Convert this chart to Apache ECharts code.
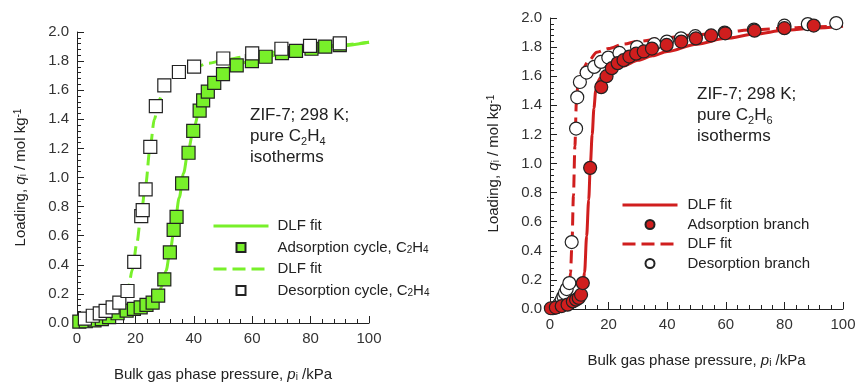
<!DOCTYPE html>
<html>
<head>
<meta charset="utf-8">
<script src="https://cdn.jsdelivr.net/npm/echarts@6/dist/echarts.min.js"></script>
<style>
  html, body { margin: 0; padding: 0; background: #fff; }
  #chart { width: 855px; height: 382px; }
</style>
</head>
<body>
<div id="chart"></div>
<script>
// ZIF-7, 298 K -- C2H4 (left) and C2H6 (right) isotherms
var FONT = '"Liberation Sans", Arial, sans-serif';
var GREEN = '#78f02a';
var RED = '#d01e1e';

// C2H4 adsorption cycle (filled squares)
var c2h4AdsP = [0.8, 3, 6, 8.5, 11, 13.9, 17, 19.5, 21.8, 23.8, 25.9, 27.8, 29.9, 31.8, 33.1, 34.1, 36, 38.2, 39.8, 42, 43.2, 44.8, 47, 50, 54.7, 59.9, 64.6, 70.2, 75, 80.3, 85, 90];
var c2h4AdsQ = [0.01, 0.012, 0.018, 0.026, 0.04, 0.067, 0.085, 0.097, 0.108, 0.124, 0.14, 0.188, 0.30, 0.485, 0.64, 0.73, 0.96, 1.17, 1.32, 1.46, 1.53, 1.59, 1.65, 1.71, 1.77, 1.80, 1.83, 1.855, 1.87, 1.885, 1.90, 1.91];
// C2H4 desorption cycle (open squares)
var c2h4DesP = [2.7, 5.4, 7.8, 9.8, 12.2, 14.5, 17.3, 19.6, 22, 22.5, 23.5, 25.1, 27, 29.9, 34.9, 40.1, 50.1, 60, 70, 79.8, 90];
var c2h4DesQ = [0.03, 0.05, 0.066, 0.083, 0.108, 0.14, 0.22, 0.42, 0.735, 0.776, 0.918, 1.21, 1.49, 1.633, 1.725, 1.762, 1.818, 1.853, 1.885, 1.905, 1.922];
// C2H4 DLF fits
var c2h4FitAP = [0, 5, 10, 15, 20, 24, 26, 27.5, 29, 30.5, 32, 33.5, 35, 36.5, 38, 40, 42, 44, 46, 48, 50, 53, 56, 60, 65, 70, 80, 90, 100];
var c2h4FitAQ = [0, 0.015, 0.035, 0.06, 0.09, 0.12, 0.145, 0.18, 0.25, 0.36, 0.51, 0.68, 0.86, 1.03, 1.18, 1.34, 1.47, 1.57, 1.64, 1.69, 1.73, 1.765, 1.785, 1.805, 1.83, 1.85, 1.88, 1.905, 1.93];
var c2h4FitDP = [0, 5, 10, 14, 16, 17.5, 19, 20.5, 22, 23.5, 25, 26.5, 28, 30, 32, 35, 40, 45, 50, 60, 70, 80, 90, 100];
var c2h4FitDQ = [0, 0.04, 0.08, 0.125, 0.17, 0.24, 0.37, 0.55, 0.76, 0.95, 1.2, 1.40, 1.53, 1.61, 1.665, 1.715, 1.755, 1.785, 1.805, 1.84, 1.865, 1.89, 1.91, 1.93];

// C2H6 adsorption branch (filled circles)
var c2h6AdsP = [0.3, 2, 4, 6, 7.8, 8.9, 9.8, 10.6, 11.2, 13.7, 17.5, 19.3, 21.1, 23.1, 25.1, 27.1, 29.4, 32, 34.8, 39.8, 44.8, 49.8, 55, 59.8, 69.8, 80, 90];
var c2h6AdsQ = [0.005, 0.01, 0.02, 0.03, 0.052, 0.064, 0.076, 0.098, 0.178, 0.97, 1.525, 1.6, 1.655, 1.69, 1.71, 1.735, 1.755, 1.77, 1.79, 1.815, 1.838, 1.86, 1.88, 1.895, 1.913, 1.93, 1.948];
// C2H6 desorption branch (open circles)
var c2h6DesP = [1, 2.3, 3.2, 4.0, 4.6, 5.1, 5.7, 6.6, 7.4, 8.9, 9.3, 10.2, 12.5, 15.1, 17.4, 19.9, 23.7, 29.7, 35.6, 39.9, 44.7, 49.6, 59.6, 69.6, 80, 88, 97.7];
var c2h6DesQ = [0.005, 0.012, 0.036, 0.064, 0.087, 0.11, 0.137, 0.178, 0.46, 1.24, 1.455, 1.56, 1.625, 1.664, 1.698, 1.728, 1.76, 1.80, 1.82, 1.838, 1.86, 1.875, 1.9, 1.92, 1.947, 1.958, 1.965];
// C2H6 DLF fits
var c2h6FitAP = [0, 4, 8, 10, 11, 11.8, 12.5, 13.2, 13.8, 14.4, 15, 15.6, 16.3, 17.2, 18.5, 20, 25, 30, 35, 40, 50, 60, 70, 80, 90, 100];
var c2h6FitAQ = [0, 0.01, 0.035, 0.07, 0.12, 0.25, 0.5, 0.75, 1.0, 1.2, 1.38, 1.5, 1.56, 1.59, 1.61, 1.63, 1.67, 1.71, 1.74, 1.77, 1.82, 1.86, 1.89, 1.915, 1.93, 1.945];
var c2h6FitDP = [0, 3, 5, 6, 6.6, 7.0, 7.5, 8.0, 8.5, 9.0, 9.5, 10.2, 11.3, 13, 16, 20, 25, 30, 40, 50, 60, 70, 80, 90, 100];
var c2h6FitDQ = [0, 0.01, 0.04, 0.09, 0.16, 0.25, 0.45, 0.78, 1.12, 1.42, 1.54, 1.6, 1.656, 1.7, 1.765, 1.79, 1.82, 1.84, 1.865, 1.885, 1.905, 1.92, 1.93, 1.94, 1.945];

// legend texts (series names must be unique, so map them)
var legendText = {
    fitAL: 'DLF fit',
    adsL: 'Adsorption cycle, C{sub|2}H{sub|4}',
    fitDL: 'DLF fit',
    desL: 'Desorption cycle, C{sub|2}H{sub|4}',
    fitAR: 'DLF fit',
    adsR: 'Adsorption branch',
    fitDR: 'DLF fit',
    desR: 'Desorption branch'
};

var SQUARE = 'path://M0,0L10,0L10,10L0,10Z';

function zip(xs, ys) {
    var out = [];
    for (var i = 0; i < xs.length; i++) out.push([xs[i], ys[i]]);
    return out;
}

var richSub = {
    sub: { fontSize: 10, fontFamily: FONT, verticalAlign: 'bottom', color: '#222' },
    sup: { fontSize: 10, fontFamily: FONT, verticalAlign: 'top', color: '#222' },
    it: { fontSize: 15, fontFamily: FONT, fontStyle: 'italic', color: '#222' }
};

function xAxisOf(idx, gap) {
    return {
        gridIndex: idx, type: 'value', min: 0, max: 100, interval: 20,
        name: 'Bulk gas phase pressure, {it|p}{sub|i} /kPa',
        nameLocation: 'middle', nameGap: gap,
        nameTextStyle: { fontSize: 15, fontFamily: FONT, color: '#222', rich: richSub },
        axisLine: { lineStyle: { color: '#222', width: 1 } },
        axisTick: { inside: true, length: 7, lineStyle: { color: '#222' } },
        minorTick: { show: true, splitNumber: 5, length: 4, lineStyle: { color: '#222' } },
        splitLine: { show: false },
        axisLabel: { fontSize: 15, fontFamily: FONT, color: '#333', margin: 8 }
    };
}

function yAxisOf(idx) {
    return {
        gridIndex: idx, type: 'value', min: 0, max: 2, interval: 0.2,
        name: 'Loading, {it|q}{sub|i} / mol kg{sup|-1}',
        nameLocation: 'middle', nameGap: 49, nameRotate: 90,
        nameTextStyle: { fontSize: 15, fontFamily: FONT, color: '#222', rich: richSub },
        axisLine: { show: true, lineStyle: { color: '#222', width: 1 } },
        axisTick: { show: true, inside: true, length: 7, lineStyle: { color: '#222' } },
        minorTick: { show: true, splitNumber: 5, length: 4, lineStyle: { color: '#222' } },
        splitLine: { show: false },
        axisLabel: {
            fontSize: 15, fontFamily: FONT, color: '#333', margin: 8,
            formatter: function (v) { return v.toFixed(1); }
        }
    };
}

function fitLine(name, idx, xs, ys, color, dashed) {
    return {
        name: name, type: 'line', xAxisIndex: idx, yAxisIndex: idx,
        data: zip(xs, ys), symbol: 'none', smooth: 0.3, smoothMonotone: 'x',
        itemStyle: { color: color },
        lineStyle: { color: color, width: 3, type: dashed ? [13, 6] : 'solid' },
        z: 2
    };
}

function marks(name, idx, xs, ys, symbol, fill, size) {
    return {
        name: name, type: 'scatter', xAxisIndex: idx, yAxisIndex: idx,
        data: zip(xs, ys), symbol: symbol, symbolSize: size,
        itemStyle: { color: fill, borderColor: '#222', borderWidth: 1.2, opacity: 1 },
        z: 3
    };
}

// line entries hide their symbol, mark entries get a proper square / circle icon
function legendOf(names, markIcon, left, top, gap, textPad) {
    var items = [
        { name: names[0], itemStyle: { opacity: 0 } },
        { name: names[1], icon: markIcon },
        { name: names[2], itemStyle: { opacity: 0 } },
        { name: names[3], icon: markIcon }
    ];
    return {
        data: items, orient: 'vertical', left: left, top: top,
        itemWidth: 55, itemHeight: 9, itemGap: gap, selectedMode: false,
        symbolKeepAspect: true,
        lineStyle: { width: 3 },
        formatter: function (n) { return legendText[n]; },
        textStyle: {
            fontSize: 15, fontFamily: FONT, color: '#222', lineHeight: 16,
            padding: [0, 0, 0, textPad], rich: richSub
        }
    };
}

var chart = echarts.init(document.getElementById('chart'), null, { renderer: 'canvas' });

chart.setOption({
    animation: false,
    backgroundColor: '#fff',
    grid: [
        { left: 77, top: 32, width: 292, height: 291, outerBoundsMode: 'none' },
        { left: 550, top: 18, width: 293, height: 291, outerBoundsMode: 'none' }
    ],
    xAxis: [xAxisOf(0, 44), xAxisOf(1, 44)],
    yAxis: [yAxisOf(0), yAxisOf(1)],
    legend: [
        legendOf(['fitAL', 'adsL', 'fitDL', 'desL'], SQUARE, 207, 213, 5.5, 4),
        legendOf(['fitAR', 'adsR', 'fitDR', 'desR'], 'circle', 616, 192, 3.5, 5)
    ],
    graphic: [
        {
            type: 'text', left: 250, top: 105,
            style: {
                text: 'ZIF-7; 298 K;\npure C{s|2}H{s|4}\nisotherms',
                font: '17px ' + FONT, fill: '#222', lineHeight: 21,
                rich: { s: { fontSize: 11, fontFamily: FONT, verticalAlign: 'bottom', fill: '#222' } }
            }
        },
        {
            type: 'text', left: 697, top: 84,
            style: {
                text: 'ZIF-7; 298 K;\npure C{s|2}H{s|6}\nisotherms',
                font: '17px ' + FONT, fill: '#222', lineHeight: 21,
                rich: { s: { fontSize: 11, fontFamily: FONT, verticalAlign: 'bottom', fill: '#222' } }
            }
        }
    ],
    series: [
        fitLine('fitAL', 0, c2h4FitAP, c2h4FitAQ, GREEN, false),
        fitLine('fitDL', 0, c2h4FitDP, c2h4FitDQ, GREEN, true),
        marks('adsL', 0, c2h4AdsP, c2h4AdsQ, 'rect', GREEN, 13),
        marks('desL', 0, c2h4DesP, c2h4DesQ, 'rect', '#fff', 13),
        fitLine('fitAR', 1, c2h6FitAP, c2h6FitAQ, RED, false),
        fitLine('fitDR', 1, c2h6FitDP, c2h6FitDQ, RED, true),
        marks('desR', 1, c2h6DesP, c2h6DesQ, 'circle', '#fff', 13),
        marks('adsR', 1, c2h6AdsP, c2h6AdsQ, 'circle', RED, 13)
    ]
});
</script>
</body>
</html>
